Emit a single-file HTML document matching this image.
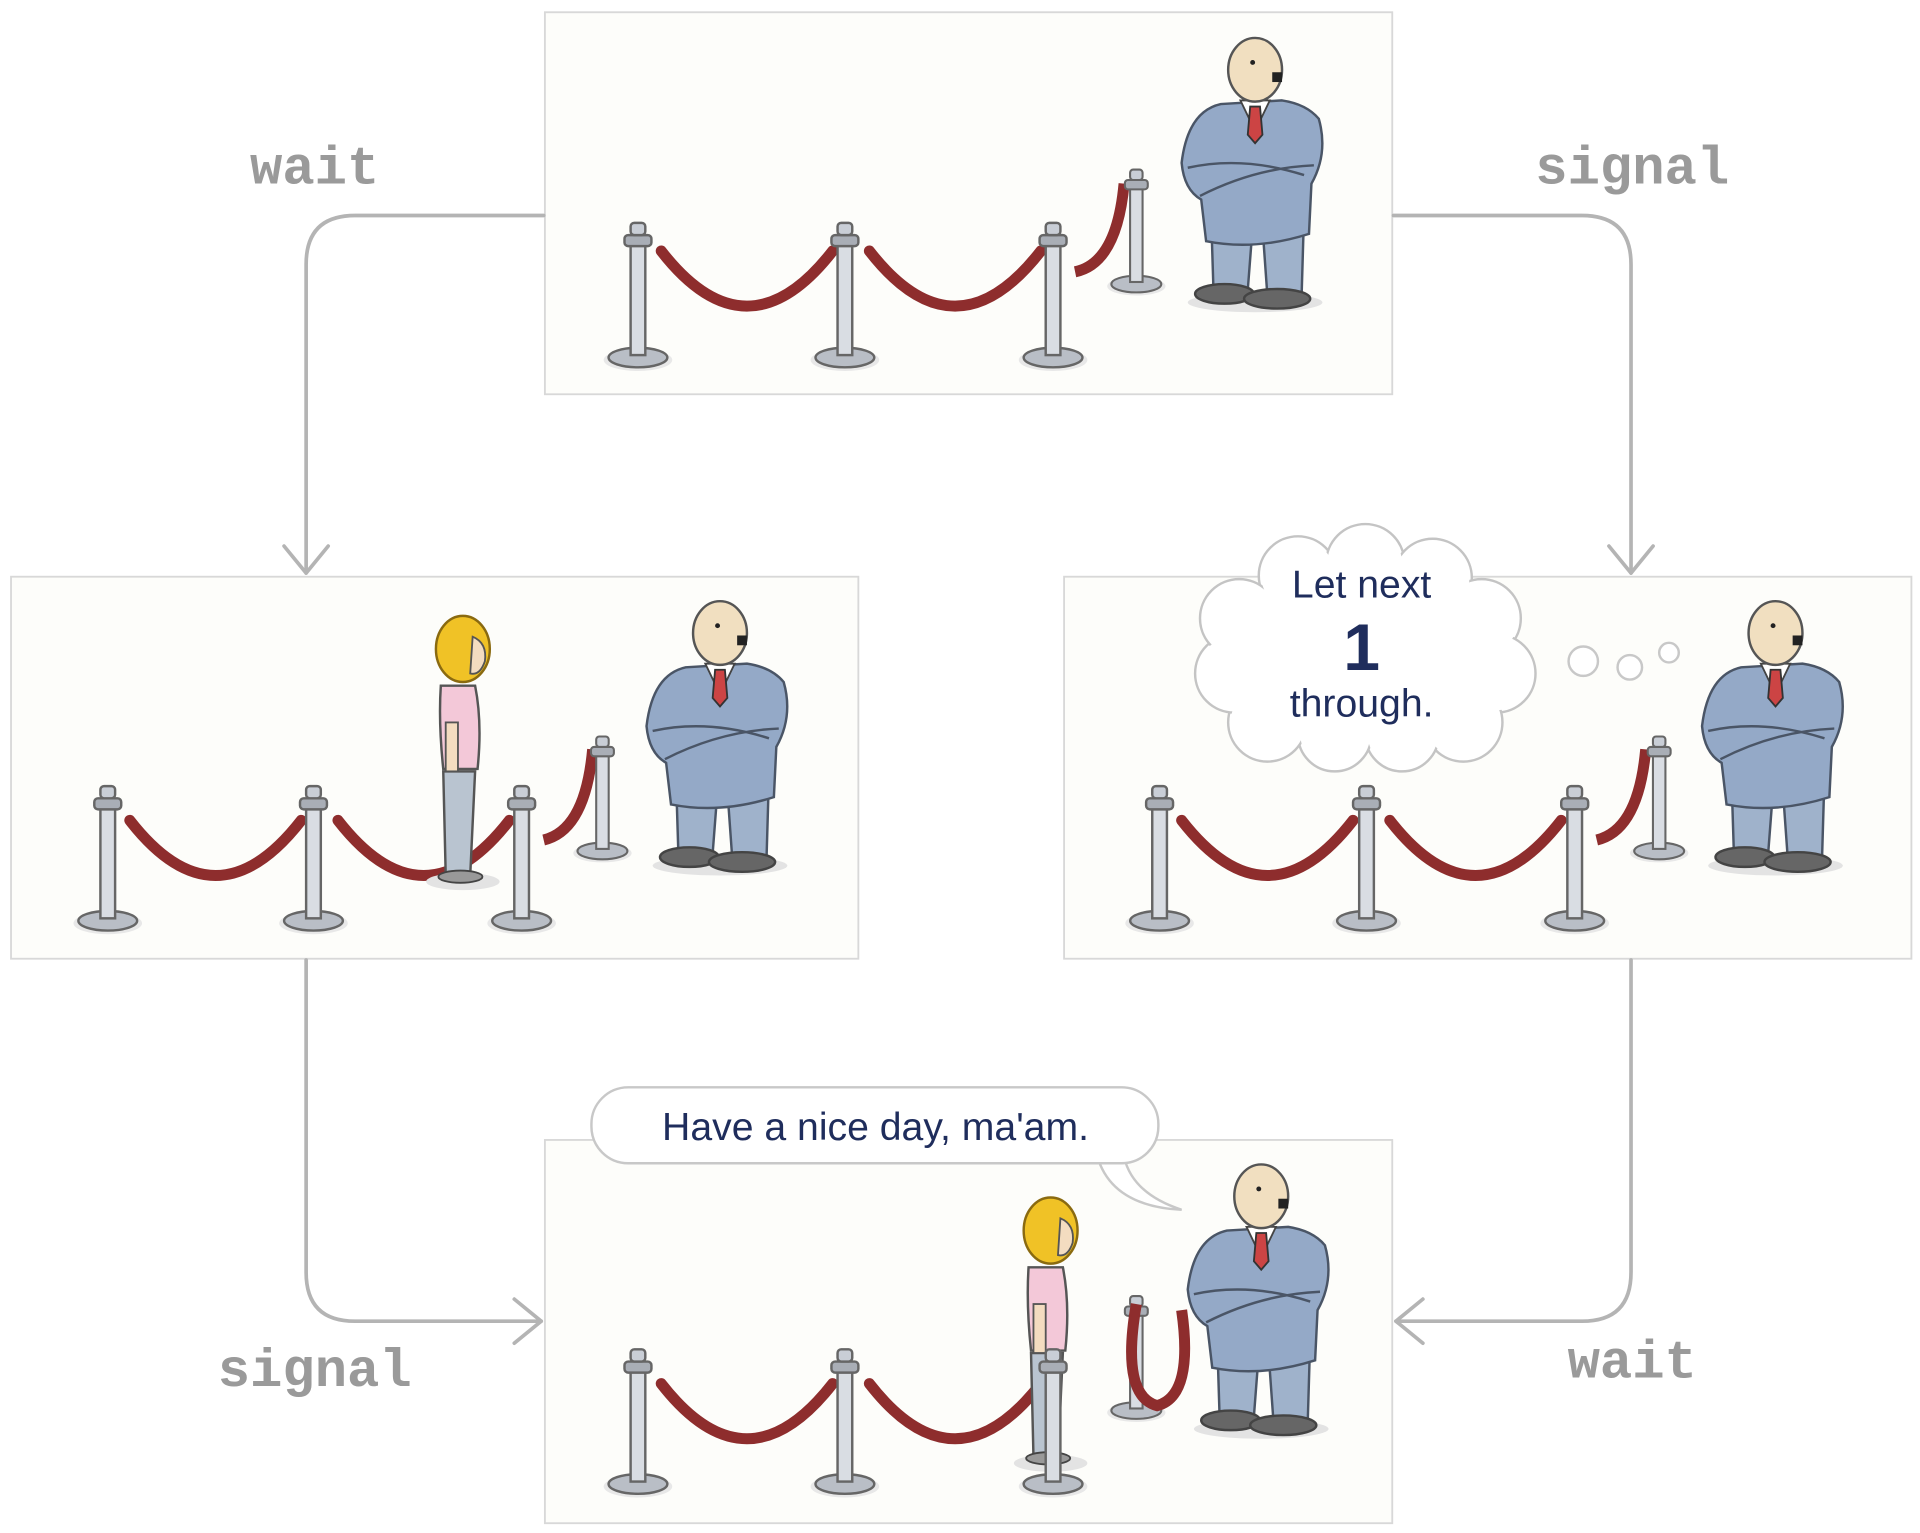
<!DOCTYPE html>
<html><head><meta charset="utf-8"><style>
html,body{margin:0;padding:0;background:#fff;}
svg{display:block}
</style></head><body>
<svg width="1920" height="1533" viewBox="0 0 1568 1252" preserveAspectRatio="none" xmlns="http://www.w3.org/2000/svg">
<defs>
<g id="post">
<ellipse cx="0" cy="2" rx="28" ry="9" fill="#e8e8e8"/>
<ellipse cx="0" cy="0" rx="24" ry="8" fill="#b9bec6" stroke="#666" stroke-width="2"/>
<rect x="-6" y="-95" width="12" height="93" fill="#d9dde3" stroke="#666" stroke-width="2"/>
<rect x="-11" y="-100" width="22" height="9" rx="3" fill="#a9aeb6" stroke="#666" stroke-width="2"/>
<rect x="-6" y="-110" width="12" height="10" rx="3" fill="#c9ced6" stroke="#666" stroke-width="2"/>
</g>
<g id="guard">
<ellipse cx="0" cy="192" rx="55" ry="8" fill="#e3e3e3"/>
<path d="M-36 118 L-34 182 L-6 182 L-2 130 L6 130 L10 186 L38 186 L40 118 Z" fill="#9fb2cb" stroke="#4a5566" stroke-width="2"/>
<ellipse cx="-25" cy="185" rx="24" ry="8" fill="#666" stroke="#444" stroke-width="2"/>
<ellipse cx="18" cy="189" rx="27" ry="8" fill="#666" stroke="#444" stroke-width="2"/>
<path d="M-28 30 Q-55 36 -60 78 Q-58 100 -44 108 L-40 142 Q0 150 44 136 L46 95 Q60 70 52 42 Q42 30 22 27 Z" fill="#94a9c7" stroke="#4a5566" stroke-width="2"/>
<path d="M-12 27 L12 27 L0 52 Z" fill="#fff" stroke="#444" stroke-width="1.5"/>
<path d="M-4 32 L4 32 L6 55 L0 62 L-6 55 Z" fill="#c44" stroke="#333" stroke-width="1.5"/>
<path d="M-55 82 Q-10 72 40 88 M-45 105 Q0 82 48 80" fill="none" stroke="#4a5566" stroke-width="2"/>
<ellipse cx="0" cy="2" rx="22" ry="26" fill="#f1dfc0" stroke="#555" stroke-width="2"/>
<circle cx="-2" cy="-4" r="2" fill="#222"/>
<rect x="14" y="4" width="8" height="8" fill="#222"/>
</g>
<g id="woman">
<ellipse cx="0" cy="190" rx="30" ry="7" fill="#e3e3e3"/>
<path d="M-16 100 L-14 185 L6 185 L10 100 Z" fill="#b9c4d0" stroke="#555" stroke-width="2"/>
<ellipse cx="-2" cy="186" rx="18" ry="5" fill="#999" stroke="#444" stroke-width="1.5"/>
<path d="M-18 30 Q-20 60 -16 98 L12 98 Q16 60 10 30 Z" fill="#f3c8d8" stroke="#555" stroke-width="2"/>
<rect x="-14" y="60" width="10" height="40" fill="#f3dcc0" stroke="#555" stroke-width="1.5"/>
<ellipse cx="0" cy="0" rx="22" ry="27" fill="#f0c226" stroke="#8a6a10" stroke-width="2"/>
<path d="M8 -10 Q20 -5 18 10 Q14 22 6 20 Z" fill="#f3dcc0" stroke="#555" stroke-width="1.5"/>
</g>
<path id="ropeA" d="M0 0 Q35 45 70 45 Q105 45 140 0" fill="none" stroke="#8e2d2d" stroke-width="9" stroke-linecap="round"/>
<path id="ropeB" d="M0 0 Q35 45 70 45 Q105 45 140 0" fill="none" stroke="#c0464a" stroke-width="5" stroke-linecap="round"/>
</defs>

<g fill="#fdfdfa" stroke="#d8d8d8" stroke-width="1.5">
<rect x="445" y="10" width="692" height="312"/>
<rect x="9" y="471" width="692" height="312"/>
<rect x="869" y="471" width="692" height="312"/>
<rect x="445" y="931" width="692" height="313"/>
</g>

<g fill="none" stroke="#b4b4b4" stroke-width="3" stroke-linecap="round" stroke-linejoin="round">
<path d="M444 176 L290 176 Q250 176 250 216 L250 468"/>
<path d="M232 446 L250 468 L268 446"/>
<path d="M1138 176 L1292 176 Q1332 176 1332 216 L1332 468"/>
<path d="M1314 446 L1332 468 L1350 446"/>
<path d="M250 784 L250 1039 Q250 1079 290 1079 L442 1079"/>
<path d="M420 1061 L442 1079 L420 1097"/>
<path d="M1332 784 L1332 1039 Q1332 1079 1292 1079 L1140 1079"/>
<path d="M1162 1061 L1140 1079 L1162 1097"/>
</g>
<g font-family="Liberation Mono, monospace" font-weight="bold" font-size="44" fill="#9a9a9a" text-anchor="middle">
<text x="257" y="150">wait</text>
<text x="1333" y="150">signal</text>
<text x="257" y="1132">signal</text>
<text x="1333" y="1125">wait</text>
</g>

<!-- top panel -->
<g transform="translate(540,205)"><use href="#ropeA"/><use href="#ropeA" x="170"/></g>
<path d="M878 222 Q912 215 918 150" fill="none" stroke="#8e2d2d" stroke-width="9"/>
<use href="#post" transform="translate(928,232) scale(0.85)"/>
<use href="#post" x="521" y="292"/><use href="#post" x="690" y="292"/><use href="#post" x="860" y="292"/>
<use href="#guard" x="1025" y="55"/>

<!-- left panel -->
<g transform="translate(106,670)"><use href="#ropeA"/><use href="#ropeA" x="170"/></g>
<path d="M444 686 Q478 678 484 612" fill="none" stroke="#8e2d2d" stroke-width="9"/>
<use href="#post" transform="translate(492,695) scale(0.85)"/>
<use href="#woman" x="378" y="530"/>
<use href="#post" x="88" y="752"/><use href="#post" x="256" y="752"/><use href="#post" x="426" y="752"/>
<use href="#guard" x="588" y="515"/>

<!-- right panel -->
<g transform="translate(965,670)"><use href="#ropeA"/><use href="#ropeA" x="170"/></g>
<path d="M1304 686 Q1338 678 1344 612" fill="none" stroke="#8e2d2d" stroke-width="9"/>
<use href="#post" transform="translate(1355,695) scale(0.85)"/>
<use href="#post" x="947" y="752"/><use href="#post" x="1116" y="752"/><use href="#post" x="1286" y="752"/>
<use href="#guard" x="1450" y="515"/>
<g fill="#fff" stroke="#c8c8c8" stroke-width="2">
<circle cx="1293" cy="540" r="12"/><circle cx="1331" cy="545" r="10"/><circle cx="1363" cy="533" r="8"/>
</g>
<g fill="#fff" stroke="#c4c4c4" stroke-width="2">
<circle cx="1060" cy="470" r="32"/><circle cx="1115" cy="460" r="32"/><circle cx="1170" cy="472" r="32"/>
<circle cx="1210" cy="505" r="32"/><circle cx="1222" cy="550" r="32"/><circle cx="1195" cy="590" r="32"/>
<circle cx="1145" cy="600" r="30"/><circle cx="1090" cy="600" r="30"/><circle cx="1035" cy="590" r="32"/>
<circle cx="1008" cy="550" r="32"/><circle cx="1012" cy="505" r="32"/>
</g>
<g fill="#fff">
<circle cx="1060" cy="470" r="30"/><circle cx="1115" cy="460" r="30"/><circle cx="1170" cy="472" r="30"/>
<circle cx="1210" cy="505" r="30"/><circle cx="1222" cy="550" r="30"/><circle cx="1195" cy="590" r="30"/>
<circle cx="1145" cy="600" r="28"/><circle cx="1090" cy="600" r="28"/><circle cx="1035" cy="590" r="30"/>
<circle cx="1008" cy="550" r="30"/><circle cx="1012" cy="505" r="30"/>
<ellipse cx="1115" cy="530" rx="105" ry="70"/>
</g>
<g font-family="Liberation Sans, sans-serif" fill="#1f2d5c" text-anchor="middle">
<text x="1112" y="488" font-size="32">Let next</text>
<text x="1112" y="547" font-size="54" font-weight="bold">1</text>
<text x="1112" y="585" font-size="32">through.</text>
</g>

<!-- bottom panel -->
<g transform="translate(540,1130)"><use href="#ropeA"/><use href="#ropeA" x="170"/></g>
<use href="#post" transform="translate(928,1152) scale(0.85)"/>
<path d="M928 1065 Q915 1140 945 1148 Q975 1140 965 1070" fill="none" stroke="#8e2d2d" stroke-width="9"/>
<use href="#post" x="521" y="1212"/><use href="#post" x="690" y="1212"/>
<use href="#woman" x="858" y="1005"/>
<use href="#post" x="860" y="1212"/>
<use href="#guard" x="1030" y="975"/>
<path d="M895 940 Q905 985 965 988 Q925 975 918 945" fill="#fff" stroke="#c8c8c8" stroke-width="2"/>
<rect x="483" y="888" width="463" height="62" rx="30" fill="#fff" stroke="#c8c8c8" stroke-width="2"/>
<text x="715" y="931" font-family="Liberation Sans, sans-serif" font-size="32" fill="#1f2d5c" text-anchor="middle">Have a nice day, ma'am.</text>
</svg>
</body></html>
